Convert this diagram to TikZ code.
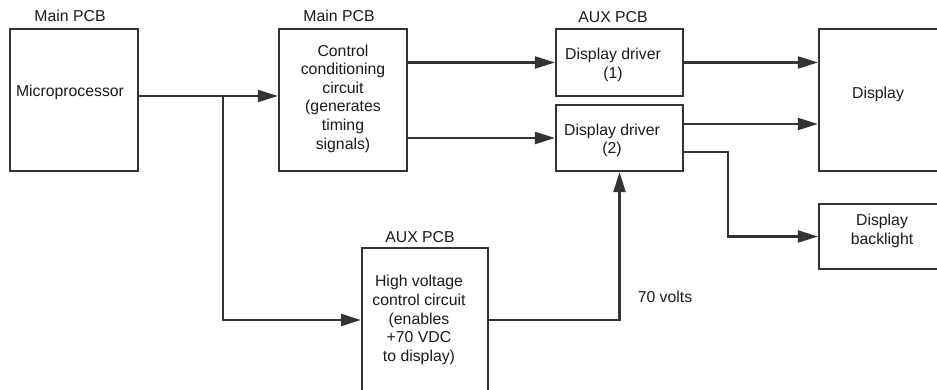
\documentclass[tikz,border=0pt]{standalone}
\usepackage{fontspec}
\setmainfont{Liberation Sans}
\usetikzlibrary{arrows.meta,calc}
\definecolor{linegray}{HTML}{333333}
\definecolor{textgray}{HTML}{1A1A1A}
\begin{document}
\begin{tikzpicture}[x=1pt,y=-1pt,
  box/.style={draw=linegray, line width=2.2pt, inner sep=0pt, fill=white},
  txt/.style={text=textgray, align=center, inner sep=0pt, font=\fontsize{15.8}{18.6}\selectfont},
  conn/.style={draw=linegray, line width=2.2pt},
  arr/.style={conn, -{Triangle[length=20pt,width=12pt]}}]
\useasboundingbox (0,0) rectangle (937,390);
\clip (0,0) rectangle (937,390);

% boxes
\node[box, minimum width=128pt, minimum height=142pt] (micro) at (74,100) {};
\node[box, minimum width=128pt, minimum height=142pt] (ctrl) at (343,100) {};
\node[box, minimum width=127pt, minimum height=67pt] (dd1) at (619.5,62.5) {};
\node[box, minimum width=127pt, minimum height=66pt] (dd2) at (619.5,138) {};
\node[box, minimum width=121pt, minimum height=142pt] (disp) at (879.5,100) {};
\node[box, minimum width=121pt, minimum height=65pt] (back) at (879.5,236.5) {};
\node[box, minimum width=126pt, minimum height=144pt] (hv) at (425,320) {};

% box texts
\node[txt] (tmicro) at (70,92) {Microprocessor};
\node[txt] (tctrl) at (343,98.5) {Control\\conditioning\\circuit\\(generates\\timing\\signals)};
\node[txt] (tdd1) at (613,65) {Display driver\\(1)};
\node[txt] (tdd2) at (612,140.5) {Display driver\\(2)};
\node[txt] (tdisp) at (878,94) {Display};
\node[txt] (tback) at (882,231) {Display\\backlight};
\node[txt] (thv) at (419,320) {High voltage\\control circuit\\(enables\\+70 VDC\\to display)};

% board labels
\node[txt] (lmicro) at (70,16) {Main PCB};
\node[txt] (lctrl) at (339,16) {Main PCB};
\node[txt] (ldd) at (613,17) {AUX PCB};
\node[txt] (lhv) at (420,237) {AUX PCB};
\node[txt] (lvolt) at (665,297) {70 volts};

% connectors
\coordinate (br) at (223,96);
\draw[arr] ($(micro.east)+(0,-4)$) -- ($(ctrl.west)+(0,-4)$);
\draw[arr] (br) |- (hv.west);
\draw[arr] (ctrl.east |- dd1.west) -- (dd1.west);
\draw[arr] (ctrl.east |- dd2.west) -- (dd2.west);
\draw[arr] (dd1.east) -- (dd1.east -| disp.west);
\draw[arr] ($(dd2.east)+(0,-14)$) -- ($(dd2.east -| disp.west)+(0,-14)$);
\coordinate (bk) at (728,152);
\draw[arr] ($(dd2.east)+(0,14)$) -- (bk) |- (back.west);
\draw[arr] (hv.east) -| (dd2.south);
\end{tikzpicture}
\end{document}
